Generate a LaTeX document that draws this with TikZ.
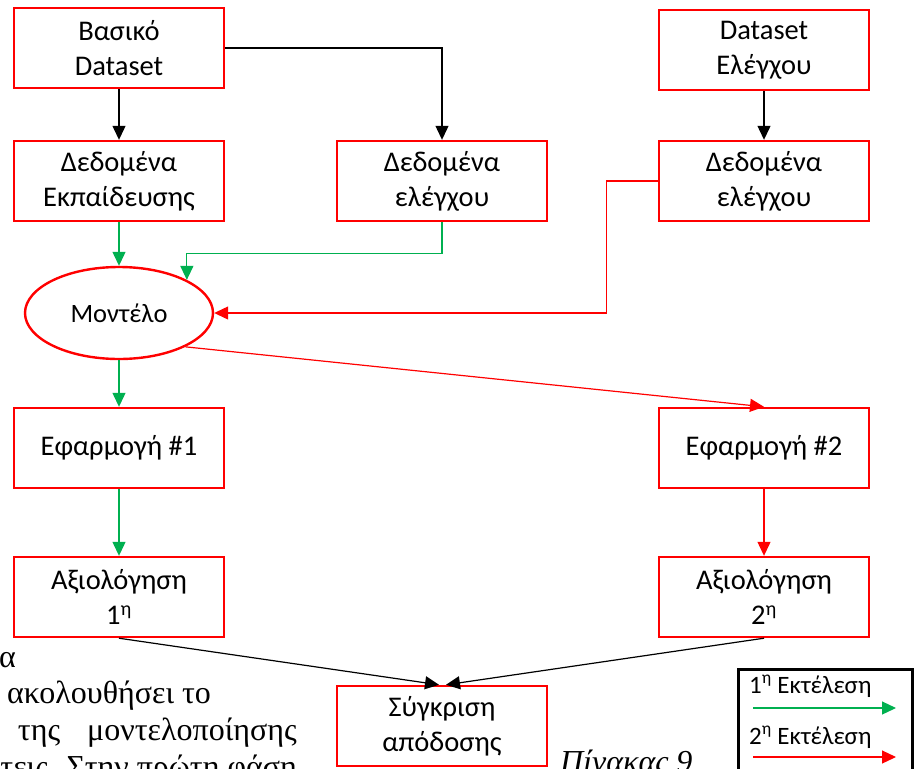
\documentclass[tikz,border=0pt]{standalone}
\usepackage{fontspec}
\setmainfont{Carlito}
\newfontfamily\textgr{Liberation Serif}
\usetikzlibrary{arrows.meta,shapes.geometric}
\definecolor{offgreen}{HTML}{00B050}
\begin{document}
\begin{tikzpicture}[x=1pt, y=-1pt, >={Triangle[length=14pt,width=13pt]},
  box/.style={draw=red, line width=2.4, minimum width=210, minimum height=80,
    inner sep=0, align=center, font=\fontsize{28.5}{35}\selectfont},
  model/.style={ellipse, draw=red, line width=2.4, minimum width=188,
    minimum height=92, inner sep=0, font=\fontsize{26.5}{34}\selectfont},
  blk/.style={->, line width=1.2, black},
  grn/.style={->, line width=1.2, offgreen},
  rd/.style={->, line width=1.2, red},
  keytxt/.style={inner sep=0, anchor=base west, font=\fontsize{25}{30}\selectfont},
  bgtxt/.style={inner sep=0, font=\textgr\fontsize{32}{37}\selectfont}]
\useasboundingbox (0,0) rectangle (917,768);
\clip (0,0) rectangle (917,768);
% page text behind the figure
\node[bgtxt, anchor=base east] (t1) at (16,667) {α};
\node[bgtxt, anchor=base west] (t2) at (7,703) {ακολουθήσει το};
\node[bgtxt, anchor=base east] (t3) at (297,740) {ε\hspace{20pt}της\hspace{27pt}μοντελοποίησης};
\node[bgtxt, anchor=base east] (t4) at (297,777) {τεις. Στην πρώτη φάση};
\node[bgtxt, anchor=base west, font=\textgr\itshape\fontsize{32}{37}\selectfont] (cap) at (560,772) {Πίνακας 9};
% boxes
\node[box] (base) at (119,48) {Βασικό\\Dataset};
\node[box] (train) at (119,181) {Δεδομένα\\Εκπαίδευσης};
\node[box] (test) at (442,181) {Δεδομένα\\ελέγχου};
\node[box] (ctrl) at (764,50) {Dataset\\Ελέγχου};
\node[box] (ctest) at (764,181) {Δεδομένα\\ελέγχου};
\node[model] (model) at (119,313) {Μοντέλο};
\node[box] (app1) at (119,448) {Εφαρμογή \#1};
\node[box] (app2) at (764,448) {Εφαρμογή \#2};
\node[box] (eval1) at (119,597) {Αξιολόγηση\\1\textsuperscript{η}};
\node[box] (eval2) at (764,597) {Αξιολόγηση\\2\textsuperscript{η}};
\node[box, fill=white] (cmp) at (442,726) {Σύγκριση\\απόδοσης};
% connectors
\draw[blk] (base) -- (train);
\draw[blk] (base.east) -| (test.north);
\draw[blk] (ctrl) -- (ctest);
\draw[grn] (train) -- (model);
\draw[grn] (test.south) -- ++(0,31) -| (model.26);
\draw[rd] (ctest.west) -- ++(-51,0) |- (model.east);
\draw[grn] (model) -- (app1);
\draw[rd] (model.-27) -- (app2.north);
\draw[grn] (app1) -- (eval1);
\draw[rd] (app2) -- (eval2);
\draw[blk] (eval1.south) -- ([xshift=-3]cmp.north);
\draw[blk] (eval2.south) -- ([xshift=4]cmp.north);
% legend
\node[draw, line width=3, minimum width=174, minimum height=130, inner sep=0,
  anchor=north west] (key) at (737,668) {};
\node[keytxt] (k1) at (749,693) {1\textsuperscript{η} Εκτέλεση};
\coordinate (g1) at (753,708);
\coordinate (g2) at (896,708);
\draw[grn] (g1) -- (g2);
\node[keytxt] (k2) at (749,744) {2\textsuperscript{η} Εκτέλεση};
\coordinate (r1) at (753,757);
\coordinate (r2) at (896,757);
\draw[rd] (r1) -- (r2);
\end{tikzpicture}
\end{document}
